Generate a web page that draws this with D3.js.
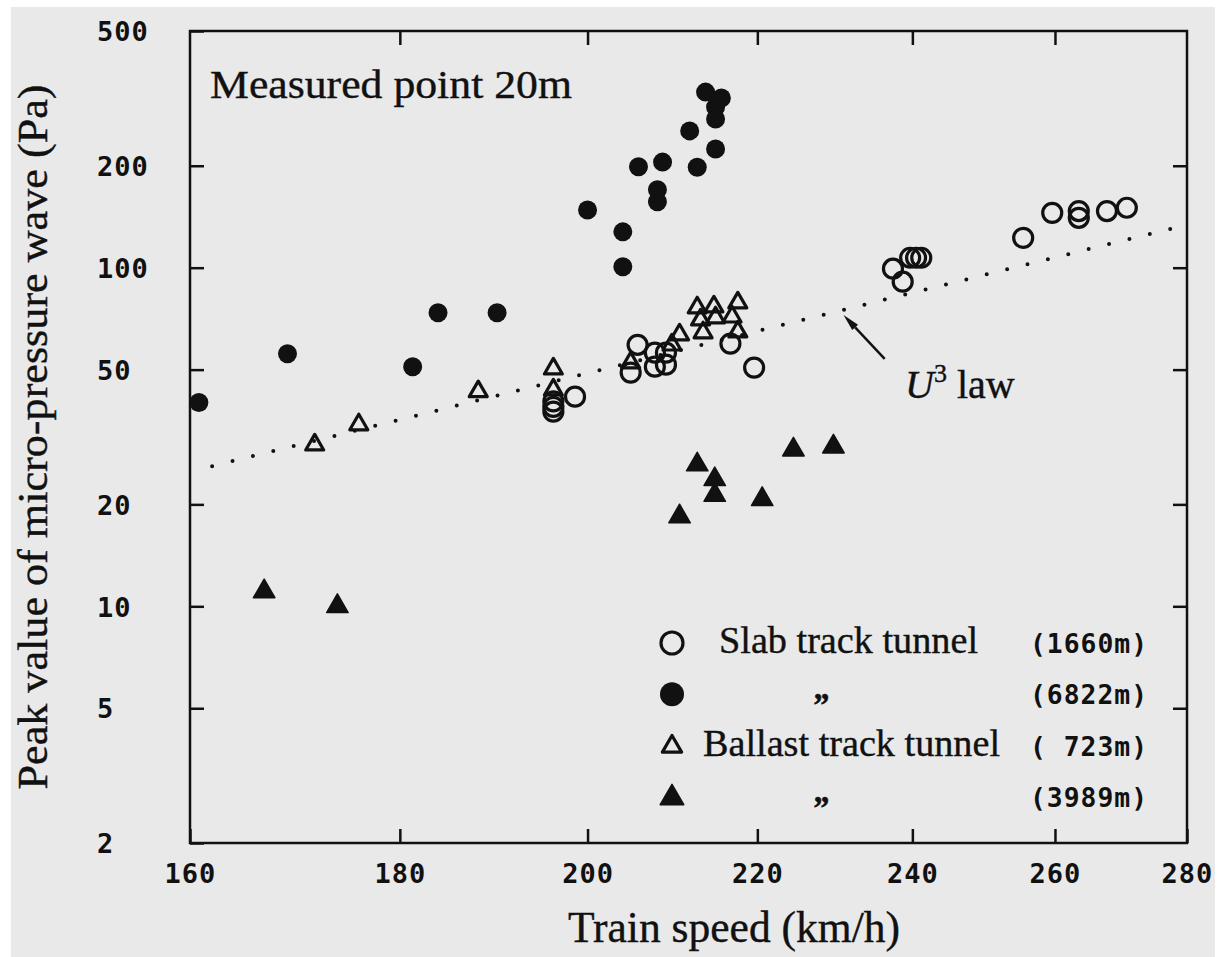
<!DOCTYPE html>
<html>
<head>
<meta charset="utf-8">
<script src="https://cdn.jsdelivr.net/npm/d3@7"></script>
<style>
  html, body { margin: 0; padding: 0; background: #fff; }
  svg { display: block; }
  .mono { font-family: "DejaVu Sans Mono", monospace; font-weight: bold; font-size: 27px; letter-spacing: 1px; fill: #111; white-space: pre; }
  .serif { font-family: "Liberation Serif", "Times New Roman", serif; fill: #111; stroke: #111; stroke-width: 0.4px; }
</style>
</head>
<body>
<div id="chart"></div>
<script>
// Each point is [train speed (km/h), peak micro-pressure wave (Pa)]
// Slab track tunnel (1660m) - open circles
const slab1660 = [
  [196.2, 40.3], [196.2, 38.8], [196.2, 37.6], [198.6, 41.6], [204.9, 49.0],
  [205.7, 59.2], [207.7, 56.1], [209.0, 56.1], [207.7, 51.0], [209.0, 51.7],
  [216.7, 59.7], [219.6, 50.7], [237.4, 99.3], [238.7, 90.9], [239.7, 107],
  [240.5, 107], [241.2, 107], [255.4, 122.5], [259.6, 145.2], [263.5, 147],
  [263.5, 140.4], [267.7, 147], [270.7, 150.3]
];

// Slab track tunnel (6822m) - filled circles
const slab6822 = [
  [160.8, 40], [169.0, 55.7], [181.3, 51], [183.9, 73.6], [190.1, 73.6],
  [200.0, 148], [204.0, 127.6], [204.0, 100.6], [205.8, 198.6], [208.0, 169.8],
  [208.0, 156.5], [208.6, 205], [211.8, 253.5], [212.7, 198], [213.7, 330],
  [215.6, 317], [214.9, 298], [214.9, 275], [214.9, 224]
];

// Ballast track tunnel (723m) - open triangles
const ballast723 = [
  [171.6, 30.0], [175.9, 34.4], [188.1, 43.1], [196.2, 50.3], [196.2, 43.6],
  [204.9, 52.4], [209.7, 59.2], [210.6, 63.4], [212.7, 76.2], [214.7, 76.7],
  [217.6, 78.8], [213.1, 70.2], [214.9, 71.2], [216.9, 71.6], [213.4, 64.3],
  [217.6, 64.7]
];

// Ballast track tunnel (3989m) - filled triangles
const ballast3989 = [
  [166.8, 11.06], [173.8, 10.0], [212.7, 26.2], [214.8, 23.7], [214.8, 21.3],
  [210.6, 18.4], [220.6, 20.7], [224.5, 29.0], [229.6, 29.6]
];

const xTicks = [160, 180, 200, 220, 240, 260, 280];
const yTicks = [2, 5, 10, 20, 50, 100, 200, 500];

// U^3 law: P = k * U^3, drawn between these speeds
const lawSpeeds = [162, 278];
const lawK = 6.1e-6;
// arrow pointing at the law line: [tail, tip] in data units
const lawArrow = [[236.3, 53.8], [230.9, 72.5]];

const legendLabels = ["Slab track tunnel", "\u201D", "Ballast track tunnel", "\u201D"];
const legendLengths = ["(1660m)", "(6822m)", "( 723m)", "(3989m)"];
const legendSymbols = ["openCircle", "filledCircle", "openTriangle", "filledTriangle"];

const W = 1221, H = 957;
const frame = {left: 190, right: 1187, top: 31, bottom: 843};

const svg = d3.select("#chart").append("svg")
  .attr("width", W)
  .attr("height", H);

// scanned paper background
svg.append("rect")
  .attr("x", 11).attr("y", 7)
  .attr("width", 1204).attr("height", H - 7)
  .attr("fill", "#e9e9e9");

const x = d3.scaleLog().domain([160, 280]).range([frame.left, frame.right]);
const y = d3.scaleLog().domain([2, 500]).range([frame.bottom, frame.top]);

// axes: ticks point inward on all four sides
const tick = 14;
const xAxisB = svg.append("g")
  .attr("transform", `translate(0,${frame.bottom})`)
  .call(d3.axisBottom(x).tickValues(xTicks).tickFormat(d3.format("d"))
    .tickSize(-tick).tickPadding(21));
const xAxisT = svg.append("g")
  .attr("transform", `translate(0,${frame.top})`)
  .call(d3.axisTop(x).tickValues(xTicks.slice(1, -1)).tickFormat("").tickSize(-tick));
const yAxisL = svg.append("g")
  .attr("transform", `translate(${frame.left},0)`)
  .call(d3.axisLeft(y).tickValues(yTicks).tickFormat(d3.format("d")).tickSize(-tick));
const yAxisR = svg.append("g")
  .attr("transform", `translate(${frame.right},0)`)
  .call(d3.axisRight(y).tickValues(yTicks.slice(1, -1)).tickFormat("").tickSize(-tick));

[xAxisB, xAxisT, yAxisL, yAxisR].forEach(g => {
  g.select(".domain").remove();
  g.selectAll(".tick line").attr("stroke", "#111").attr("stroke-width", 2.5);
});

xAxisB.selectAll("text")
  .attr("class", "mono")
  .attr("fill", null);

// y labels are left aligned in the original
yAxisL.selectAll("text")
  .attr("class", "mono")
  .attr("fill", null)
  .attr("text-anchor", "start")
  .attr("x", 97 - frame.left)
  .attr("dy", "0.36em");
xAxisB.attr("font-family", null).attr("font-size", null);
yAxisL.attr("font-family", null).attr("font-size", null);

// frame
svg.append("rect")
  .attr("x", frame.left).attr("y", frame.top)
  .attr("width", frame.right - frame.left)
  .attr("height", frame.bottom - frame.top)
  .attr("fill", "none")
  .attr("stroke", "#111")
  .attr("stroke-width", 2.5);

// U^3 law dotted line
const lawLine = d3.line()
  .x(d => x(d))
  .y(d => y(lawK * d * d * d));
svg.append("path")
  .datum(lawSpeeds)
  .attr("d", lawLine)
  .attr("fill", "none")
  .attr("stroke", "#111")
  .attr("stroke-width", 4)
  .attr("stroke-linecap", "round")
  .attr("stroke-dasharray", "0 21");

// symbols
const triOpen = d3.symbol().type(d3.symbolTriangle).size(140);
const triFill = d3.symbol().type(d3.symbolTriangle).size(200);

svg.append("g").selectAll("path")
  .data(ballast723)
  .join("path")
  .attr("d", triOpen)
  .attr("transform", d => `translate(${x(d[0])},${y(d[1])})`)
  .attr("fill", "none")
  .attr("stroke", "#111")
  .attr("stroke-width", 3.2)
  .attr("stroke-linejoin", "round");

svg.append("g").selectAll("path")
  .data(ballast3989)
  .join("path")
  .attr("d", triFill)
  .attr("transform", d => `translate(${x(d[0])},${y(d[1])})`)
  .attr("fill", "#111")
  .attr("stroke", "#111")
  .attr("stroke-width", 1.5)
  .attr("stroke-linejoin", "round");

svg.append("g").selectAll("circle")
  .data(slab1660)
  .join("circle")
  .attr("cx", d => x(d[0]))
  .attr("cy", d => y(d[1]))
  .attr("r", 9.5)
  .attr("fill", "none")
  .attr("stroke", "#111")
  .attr("stroke-width", 3.2);

svg.append("g").selectAll("circle")
  .data(slab6822)
  .join("circle")
  .attr("cx", d => x(d[0]))
  .attr("cy", d => y(d[1]))
  .attr("r", 9.5)
  .attr("fill", "#111");

// annotation arrow for the law line
const tail = [x(lawArrow[0][0]), y(lawArrow[0][1])];
const tip = [x(lawArrow[1][0]), y(lawArrow[1][1])];
const ang = Math.atan2(tip[1] - tail[1], tip[0] - tail[0]);
const headLen = 17, headW = 4;
const hb = [tip[0] - headLen * Math.cos(ang), tip[1] - headLen * Math.sin(ang)];
svg.append("line")
  .attr("x1", tail[0]).attr("y1", tail[1])
  .attr("x2", hb[0]).attr("y2", hb[1])
  .attr("stroke", "#111")
  .attr("stroke-width", 2.5);
svg.append("path")
  .attr("d", `M${tip[0]},${tip[1]}
    L${hb[0] - headW * Math.sin(ang)},${hb[1] + headW * Math.cos(ang)}
    L${hb[0] + headW * Math.sin(ang)},${hb[1] - headW * Math.cos(ang)}Z`)
  .attr("fill", "#111");

const law = svg.append("text")
  .attr("class", "serif")
  .attr("x", 905).attr("y", 398)
  .style("font-size", "40px");
law.append("tspan").style("font-style", "italic").text("U");
law.append("tspan").attr("dy", -16).style("font-size", "26px").text("3");
law.append("tspan").attr("dy", 16).attr("dx", 10).text("law");

// inner title
svg.append("text")
  .attr("class", "serif")
  .attr("x", 210).attr("y", 98)
  .attr("textLength", 362)
  .attr("lengthAdjust", "spacingAndGlyphs")
  .style("font-size", "41px")
  .text("Measured point 20m");

// axis titles
svg.append("text")
  .attr("class", "serif")
  .attr("x", 568).attr("y", 942)
  .attr("textLength", 332)
  .attr("lengthAdjust", "spacingAndGlyphs")
  .style("font-size", "44px")
  .text("Train speed (km/h)");

svg.append("text")
  .attr("class", "serif")
  .attr("transform", "translate(47,437) rotate(-90)")
  .attr("text-anchor", "middle")
  .attr("textLength", 705)
  .attr("lengthAdjust", "spacingAndGlyphs")
  .style("font-size", "42px")
  .text("Peak value of micro-pressure wave (Pa)");

// legend
const legendX = 672, legendY0 = 643, legendStep = 51.3;
const legend = svg.append("g");
legendSymbols.forEach((s, i) => {
  const cy = legendY0 + i * legendStep;
  if (s === "openCircle" || s === "filledCircle") {
    legend.append("circle")
      .attr("cx", legendX).attr("cy", cy).attr("r", s === "openCircle" ? 11 : 12)
      .attr("fill", s === "openCircle" ? "none" : "#111")
      .attr("stroke", "#111")
      .attr("stroke-width", s === "openCircle" ? 3.2 : 0);
  } else {
    legend.append("path")
      .attr("d", d3.symbol().type(d3.symbolTriangle).size(s === "openTriangle" ? 160 : 240)())
      .attr("transform", `translate(${legendX},${cy + 1})`)
      .attr("fill", s === "openTriangle" ? "none" : "#111")
      .attr("stroke", "#111")
      .attr("stroke-width", s === "openTriangle" ? 3.2 : 1.5)
      .attr("stroke-linejoin", "round");
  }

  const label = legendLabels[i];
  if (label === "\u201D") {
    legend.append("text")
      .attr("class", "serif")
      .attr("x", 820).attr("y", cy + 22)
      .attr("text-anchor", "middle")
      .style("font-size", "34px")
      .style("font-weight", "bold")
      .style("font-style", "italic")
      .text(label);
  } else {
    legend.append("text")
      .attr("class", "serif")
      .attr("x", i === 0 ? 719 : 703).attr("y", cy + 10)
      .attr("textLength", i === 0 ? 259 : 297)
      .attr("lengthAdjust", "spacingAndGlyphs")
      .style("font-size", "38px")
      .text(label);
  }

  legend.append("text")
    .attr("class", "mono")
    .attr("x", 1030).attr("y", cy + 10)
    .attr("textLength", 118)
    .attr("lengthAdjust", "spacingAndGlyphs")
    .text(legendLengths[i]);
});
</script>
</body>
</html>
